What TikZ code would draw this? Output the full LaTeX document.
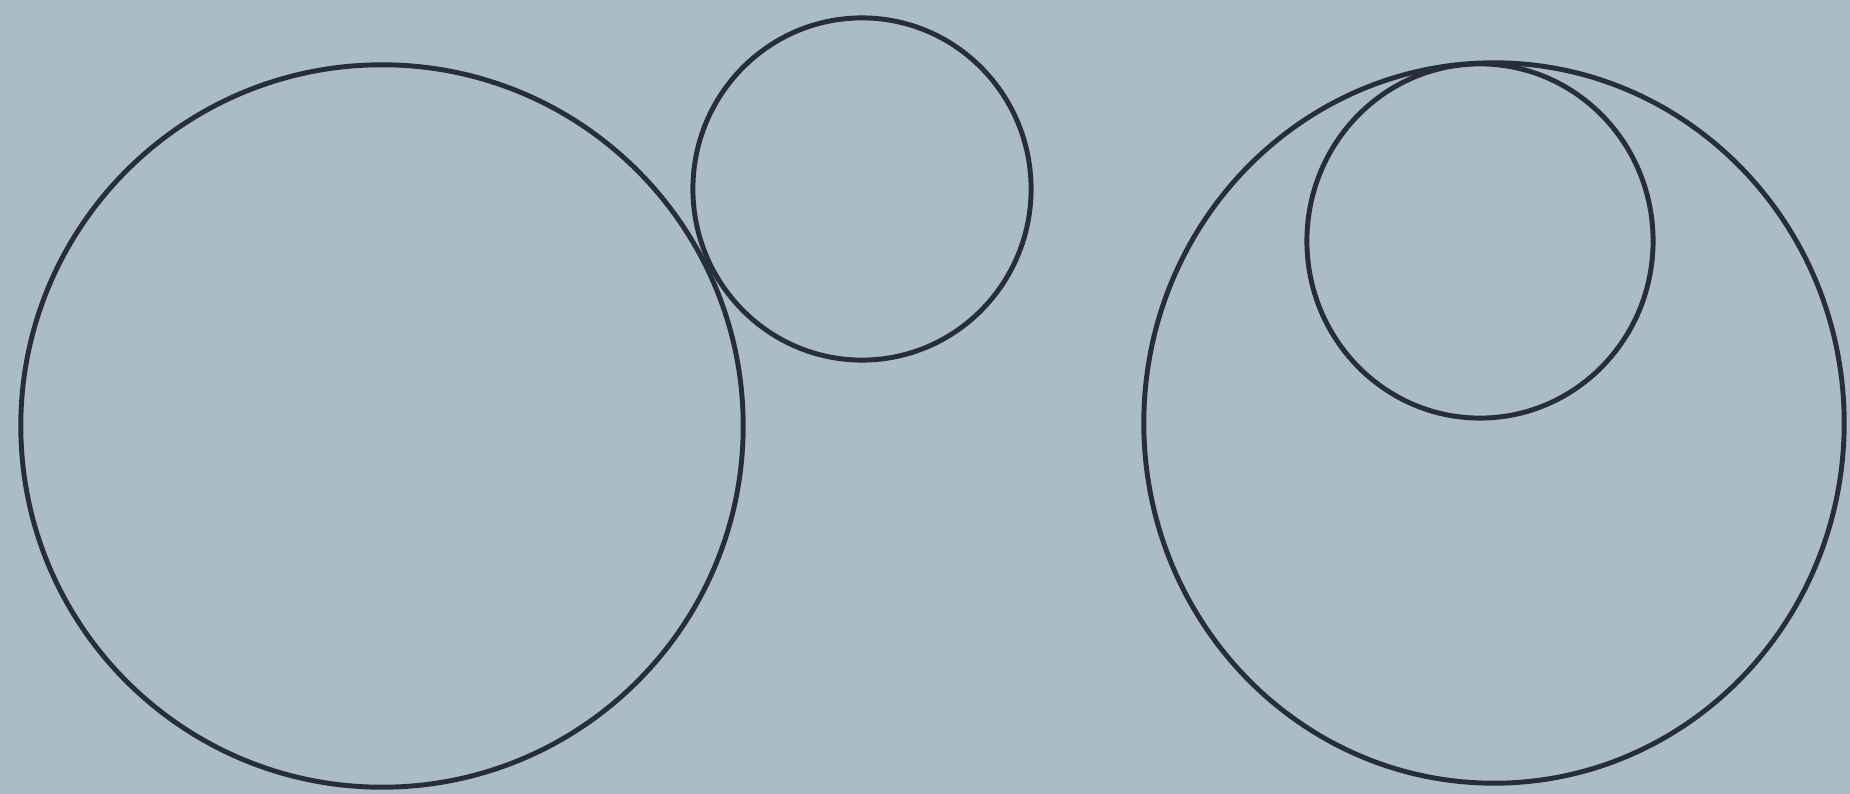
\documentclass[tikz,border=0pt]{standalone}
\usepackage{tikz}
\usetikzlibrary{positioning}
\definecolor{paper}{RGB}{170,188,197}
\definecolor{ink}{RGB}{40,46,56}
\tikzset{
  ring/.style={draw=ink, line width=1.4pt}}

\begin{document}
\begin{tikzpicture}[x=0.01cm, y=-0.01cm]
\fill [paper] (0,0) rectangle (1850,794);
\useasboundingbox (0,0) rectangle (1850,794);
	\coordinate (a) at (382,426);
	\coordinate (b) at (862,189);
\coordinate (c) at (1494,423);
\coordinate (d) at (1480,241);
% touching from outside
\draw [ring] (a) circle [radius=3.61cm];
\draw [ring] (b) circle [x radius=1.69cm, y radius=1.71cm];
% touching from inside
\draw [ring] (c) circle [x radius=3.50cm, y radius=3.60cm];
\draw [ring] (d) circle [x radius=1.73cm, y radius=1.77cm];
	\end{tikzpicture}
\end{document}
